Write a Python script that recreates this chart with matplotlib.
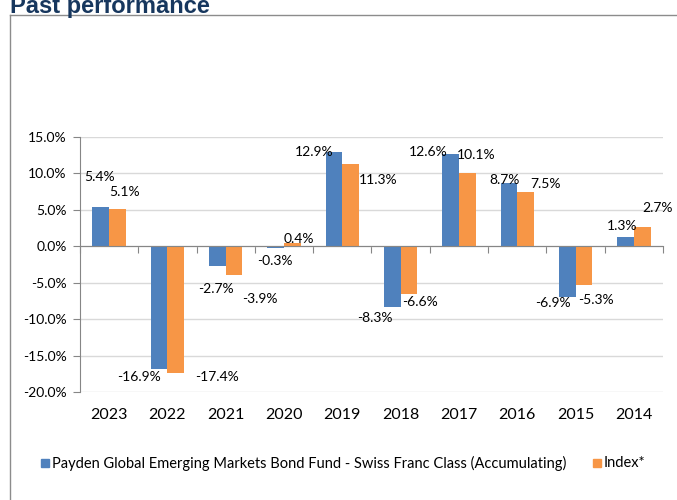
import numpy as np
import matplotlib
matplotlib.use("Agg")
import matplotlib.pyplot as plt
from matplotlib.patches import Rectangle
from matplotlib.lines import Line2D

plt.rcParams['font.family'] = ['Lato', 'DejaVu Sans']

# Calendar-year returns (%)
years = ['2023', '2022', '2021', '2020', '2019', '2018', '2017', '2016', '2015', '2014']
fund = [5.4, -16.9, -2.7, -0.3, 12.9, -8.3, 12.6, 8.7, -6.9, 1.3]
index = [5.1, -17.4, -3.9, 0.4, 11.3, -6.6, 10.1, 7.5, -5.3, 2.7]

fund_name = 'Payden Global Emerging Markets Bond Fund - Swiss Franc Class (Accumulating)'
index_name = 'Index*'

# Label nudges in pixels from the bar end
fund_off = [(-1, 30), (-20, -8), (-1, -23), (-1, -13), (-20, 0),
            (-17, -11), (-22, 2), (-4, 3), (-14, -6), (-3, 11)]
index_off = [(7, 17), (41, -4), (26, -24), (6, 4), (27, -16),
             (11, -8), (9, 18), (20, 8), (12, -15), (15, 19)]

BLUE = '#4F81BD'
ORANGE = '#F79646'
GRID = '#D9D9D9'
AXIS = '#868686'

W, H = 677, 500
fig = plt.figure(figsize=(W / 100, H / 100), dpi=100)

# outer frame (left and top edges of the panel)
fig.add_artist(Line2D([9.5 / W, 9.5 / W], [0, 1 - 15 / H], color='#8C8C8C', lw=1))
fig.add_artist(Line2D([9.5 / W, 1], [1 - 15 / H, 1 - 15 / H], color='#8C8C8C', lw=1))
fig.text(10 / W, 1 - 12.5 / H, 'Past performance', family='Liberation Sans',
         fontweight='bold', fontsize=17, color='#17375E', va='baseline', ha='left')

left, right, top, bottom = 80, 663, 137, 392
ax = fig.add_axes([left / W, 1 - bottom / H, (right - left) / W, (bottom - top) / H])

x = np.arange(len(years)) + 0.5
bw = 0.286
b1 = ax.bar(x - bw / 2, fund, bw, color=BLUE, zorder=3, label=fund_name)
b2 = ax.bar(x + bw / 2, index, bw, color=ORANGE, zorder=3, label=index_name)

ax.set_xlim(0, len(years))
ax.set_ylim(-20, 15)
ax.set_yticks(np.arange(-20, 16, 5))
ax.set_yticklabels(['%.1f%%' % v for v in np.arange(-20, 16, 5)])
ax.yaxis.grid(True, color=GRID, lw=1)
ax.set_axisbelow(True)

for s in ['top', 'right']:
    ax.spines[s].set_visible(False)
ax.spines['left'].set_color(AXIS)
ax.spines['bottom'].set_color(AXIS)
ax.spines['bottom'].set_position(('data', 0))
ax.spines['bottom'].set_zorder(4)

ax.set_xticks(np.arange(len(years) + 1))
ax.set_xticklabels([])
ax.tick_params(axis='x', direction='out', length=5, color=AXIS)
ax.tick_params(axis='y', direction='out', length=5, color=AXIS,
               labelsize=10, pad=4.5, labelcolor='black')

for xi, yr in zip(x, years):
    ax.text(xi, -0.09, yr, transform=ax.get_xaxis_transform(),
            ha='center', va='center', fontsize=11.5)

for bars, vals, offs in [(b1, fund, fund_off), (b2, index, index_off)]:
    for rect, v, (dx, dy) in zip(bars, vals, offs):
        xc = rect.get_x() + rect.get_width() / 2
        ax.annotate('%.1f%%' % v, (xc, v), xytext=(dx, dy),
                    textcoords='offset pixels', ha='center', va='center',
                    fontsize=10, zorder=5)

# legend
ly = 1 - 463 / H
for x0, col, name in [(41, BLUE, fund_name), (593, ORANGE, index_name)]:
    fig.add_artist(Rectangle((x0 / W, ly - 4 / H), 8 / W, 8 / H,
                             color=col, transform=fig.transFigure))
    fig.text((x0 + 11) / W, ly, name, ha='left', va='center', fontsize=10.5)

fig.savefig('out.png', dpi=100)
